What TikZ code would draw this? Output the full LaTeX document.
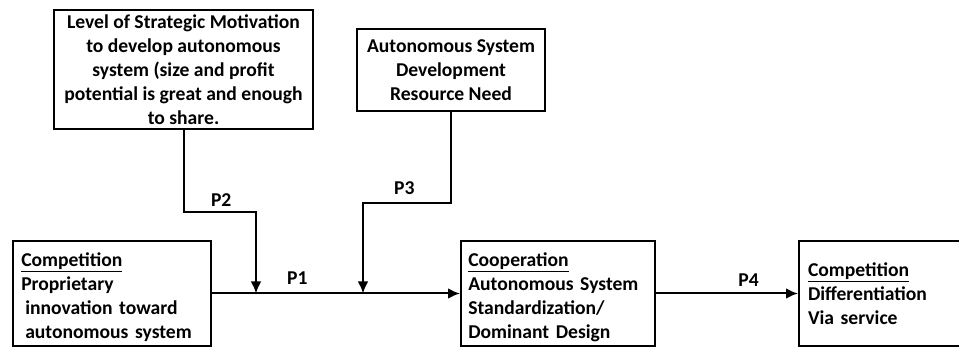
\documentclass[tikz,border=0pt]{standalone}
\usepackage{fontspec}
\setmainfont{Carlito}
\usetikzlibrary{arrows.meta}
\tikzset{>={Latex[length=9pt,width=8pt]}}
\tikzset{every node/.style={font=\fontsize{14.7}{18}\selectfont\bfseries}}
\tikzset{box/.style={draw, line width=1.5pt, inner xsep=6.75pt, minimum height=78.75pt},
  boxtext/.style={text width=135pt, align=left, inner sep=0pt, anchor=north west},
  link/.style={->, line width=1.5pt}}

\begin{document}
\begin{tikzpicture}[x=0.75pt, y=-0.75pt]
  \useasboundingbox (0,0) rectangle (959,348);
  \clip (0,0) rectangle (959,348);
  % drivers on top
  \node[box, align=center, inner ysep=1pt, minimum width=194.25pt, minimum height=89.25pt] (motiv) at (183.5,69.5)
    {Level of Strategic Motivation\\ to develop autonomous\\ system (size and profit\\ potential is great and enough\\ to share.};
  \node[box, align=center, minimum width=141pt, minimum height=61.5pt] (resource) at (451,70)
    {Autonomous System\\ Development\\ Resource Need};
  % stages
  \node[box, minimum width=148.5pt] (propr) at (112,293.5) {};
  \node[boxtext] (propr-txt) at ([shift={(9,12)}]propr.north west)
    {\underline{Competition}\\ Proprietary\\ \hspace*{3pt}innovation toward\\ \hspace*{3pt}autonomous system};
  \node[box, minimum width=145.5pt] (coop) at (558,293.5) {};
  \node[boxtext] (coop-txt) at ([shift={(8,12)}]coop.north west)
    {\underline{Cooperation}\\ Autonomous System\\ Standardization/\\ Dominant Design};
  \node[box, text width=129pt, align=left] (serv) at (894,293.5)
    {\underline{Competition}\\ Differentiation\\ Via service};
  % joins on P1
  \coordinate (j2) at (256,293.5);
  \coordinate (j3) at (363,293.5);
  \draw[link] (propr.east) -- node[pos=0.344, above=2.5pt] (p1) {P1} (coop.west);
  \draw[link] (coop.east) -- node[pos=0.652, above=1.2pt] (p4) {P4} (serv.west);
  \draw[link] (motiv.south) -- ++(0,82) -| node[pos=0.26, above=0pt] (p2) {P2} (j2);
  \draw[link] (resource.south) -- ++(0,91) -| node[pos=0.265, above=2.5pt] (p3) {P3} (j3);
\end{tikzpicture}
\end{document}
